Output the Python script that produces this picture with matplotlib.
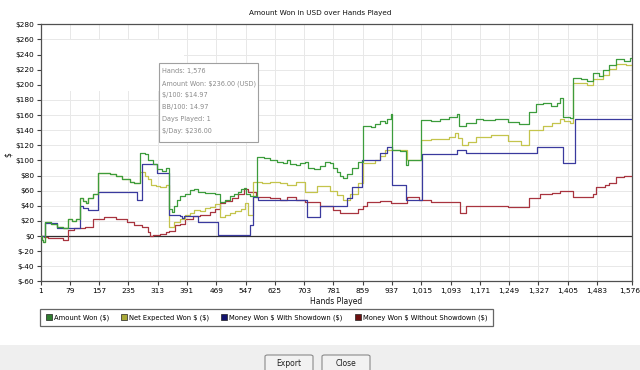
import matplotlib
matplotlib.use("Agg")
import matplotlib.pyplot as plt
import matplotlib.transforms as mtransforms
from matplotlib.lines import Line2D
from matplotlib.patches import Rectangle, FancyBboxPatch

# Amount Won ($)
won_hands = [1, 4, 8, 12, 14, 30, 45, 60, 74, 85, 95, 106, 115, 122, 127, 141, 154, 185,
             202, 218, 230, 239, 250, 266, 280, 287, 300, 311, 325, 335, 343, 350, 356,
             364, 372, 385, 399, 409, 420, 440, 465, 478, 492, 505, 515, 526, 535, 542,
             548, 560, 577, 595, 612, 630, 646, 657, 665, 680, 691, 705, 712, 730, 744,
             758, 771, 779, 790, 798, 806, 816, 830, 846, 859, 880, 891, 904, 918, 923,
             933, 938, 957, 973, 980, 1000, 1015, 1040, 1064, 1090, 1109, 1116, 1133,
             1160, 1180, 1210, 1247, 1275, 1303, 1320, 1340, 1360, 1375, 1383, 1391,
             1410, 1420, 1440, 1455, 1471, 1489, 1500, 1516, 1534, 1555, 1570, 1576]
won_usd = [0, -5, -8, -3, 18, 16, 12, 10, 22, 20, 23, 50, 46, 44, 50, 56, 83, 82,
           79, 76, 75, 72, 70, 110, 108, 100, 95, 88, 86, 90, 36, 32, 40,
           48, 53, 56, 61, 62, 58, 57, 55, 45, 48, 53, 56, 58, 62, 64,
           56, 53, 105, 103, 100, 98, 96, 100, 95, 94, 96, 98, 90, 88, 93,
           98, 96, 90, 84, 80, 77, 82, 90, 98, 145, 144, 148, 152, 150, 155,
           162, 114, 112, 94, 101, 100, 154, 152, 155, 157, 161, 145, 149,
           155, 153, 155, 151, 148, 164, 174, 176, 172, 176, 182, 158,
           156, 209, 207, 205, 215, 212, 219, 226, 234, 232, 236, 236]

# Net Expected Won $ ($)
ev_hands = [1, 4, 8, 12, 14, 30, 45, 60, 74, 85, 95, 106, 115, 122, 127, 141, 154, 185,
            202, 218, 230, 239, 250, 266, 279, 287, 295, 308, 320, 335, 343, 356, 372,
            385, 399, 409, 425, 439, 452, 465, 478, 492, 505, 520, 535, 545, 553, 567,
            590, 612, 638, 657, 680, 705, 737, 771, 790, 806, 824, 846, 859, 891, 904,
            918, 976, 1015, 1040, 1090, 1105, 1112, 1122, 1140, 1160, 1200, 1247, 1280,
            1303, 1340, 1364, 1383, 1395, 1410, 1420, 1455, 1471, 1500, 1516, 1534,
            1560, 1576]
ev_usd = [0, -5, -8, -3, 18, 16, 12, 10, 22, 20, 23, 50, 46, 44, 50, 56, 83, 82,
          79, 76, 75, 72, 70, 85, 80, 75, 67, 66, 65, 67, 12, 18, 22,
          28, 30, 34, 33, 37, 39, 42, 25, 28, 30, 33, 36, 44, 28, 72,
          70, 72, 70, 68, 72, 58, 66, 60, 54, 48, 56, 70, 97, 100, 106,
          114, 101, 127, 128, 131, 136, 129, 120, 124, 131, 133, 126, 121,
          140, 145, 150, 155, 152, 150, 202, 200, 208, 213, 221, 228,
          226, 228]

# Money Won $ With Showdown ($)
sd_hands = [1, 14, 45, 106, 115, 127, 154, 258, 270, 311, 343, 372, 377, 382, 420,
            473, 558, 567, 580, 640, 710, 744, 816, 830, 856, 904, 923, 936, 973, 1018,
            1109, 1133, 1324, 1391, 1423, 1576]
sd_usd = [0, 17, 10, 40, 37, 34, 58, 48, 95, 83, 28, 26, 24, 26, 19,
          1, 15, 52, 48, 48, 25, 40, 50, 65, 100, 110, 118, 68, 48, 108,
          114, 110, 118, 96, 155, 155]

# Money Won $ Without Showdown ($)
nsd_hands = [1, 10, 20, 40, 60, 74, 90, 106, 120, 141, 170, 202, 230, 250, 270, 287,
             292, 300, 319, 335, 343, 359, 372, 385, 407, 425, 452, 465, 478, 492, 510,
             526, 542, 553, 575, 612, 638, 657, 680, 705, 744, 779, 798, 816, 846, 859,
             870, 904, 933, 976, 1010, 1040, 1100, 1118, 1133, 1200, 1247, 1303, 1330,
             1364, 1383, 1420, 1455, 1471, 1481, 1505, 1516, 1534, 1555, 1576]
nsd_usd = [0, -1, -2, -3, -5, 8, 10, 11, 12, 23, 25, 22, 18, 14, 12, 5,
           0, 1, 3, 5, 6, 14, 16, 22, 26, 28, 32, 36, 43, 46, 50,
           56, 62, 58, 52, 50, 48, 51, 47, 45, 40, 34, 31, 30, 36, 40,
           45, 46, 44, 52, 47, 45, 45, 31, 40, 40, 38, 50, 55,
           57, 60, 52, 52, 56, 65, 68, 70, 78, 80, 80]

x_ticks = [1, 79, 157, 235, 313, 391, 469, 547, 625, 703, 781, 859, 937, 1015,
           1093, 1171, 1249, 1327, 1405, 1483, 1576]
y_ticks = [-60, -40, -20, 0, 20, 40, 60, 80, 100, 120, 140, 160, 180, 200, 220,
           240, 260, 280]

series_names = ["Amount Won ($)", "Net Expected Won $ ($)",
                "Money Won $ With Showdown ($)", "Money Won $ Without Showdown ($)"]
tooltip_lines = ["Hands: 1,576", "Amount Won: $236.00 (USD)", "$/100: $14.97",
                 "BB/100: 14.97", "Days Played: 1", "$/Day: $236.00"]

line_colors = ["#3c9c3c", "#c4c44c", "#3a3a9e", "#a8343f"]
swatch_colors = ["#2f7d2f", "#a8a838", "#14146e", "#6e1010"]

plt.rcParams["font.family"] = "DejaVu Sans"
plt.rcParams["text.parse_math"] = False
fig = plt.figure(figsize=(6.4, 3.7), dpi=100)
fig.patch.set_facecolor("white")

# grey dialog strip with buttons at the bottom
fig.patches.append(Rectangle((0, 0), 1, 25 / 370, transform=fig.transFigure,
                             facecolor="#efefef", edgecolor="none", zorder=0))
for label, x0, x1 in [("Export", 265, 313), ("Close", 322, 370)]:
    fig.patches.append(FancyBboxPatch((x0 / 640, -6 / 370), (x1 - x0) / 640, 21 / 370,
                                      boxstyle="round,pad=0,rounding_size=0.004",
                                      transform=fig.transFigure, facecolor="#f2f2f2",
                                      edgecolor="#8a8a8a", linewidth=0.8, zorder=1))
    fig.text((x0 + x1) / 2 / 640, 7 / 370, label, ha="center", va="center",
             fontsize=5.5, color="#202020")

ax = fig.add_axes([0.0633, 0.2395, 0.9242, 0.6949])
ax.set_xlim(1, 1576)
ax.set_ylim(-60, 280)

ax.step(nsd_hands, nsd_usd, where="post", color=line_colors[3], lw=0.9, zorder=3)
ax.step(ev_hands, ev_usd, where="post", color=line_colors[1], lw=0.9, zorder=4)
ax.step(sd_hands, sd_usd, where="post", color=line_colors[2], lw=0.9, zorder=5)
ax.step(won_hands, won_usd, where="post", color=line_colors[0], lw=0.9, zorder=6)
ax.axhline(0, color="#303030", lw=0.9, zorder=2)

ax.set_xticks(x_ticks)
ax.set_xticklabels([f"{t:,}" for t in x_ticks])
ax.set_yticks(y_ticks)
ax.set_yticklabels([f"${v}" for v in y_ticks])
ax.tick_params(labelsize=5.3, length=3, width=0.8, color="#404040", pad=1.5)
# keep the last hand label inside the figure
last = ax.get_xticklabels()[-1]
last.set_horizontalalignment("right")
last.set_transform(last.get_transform() + mtransforms.ScaledTranslation(8 / 100, 0, fig.dpi_scale_trans))
ax.grid(True, color="#e8e8e8", lw=0.7)
ax.set_axisbelow(True)
for sp in ax.spines.values():
    sp.set_color("#505050")
    sp.set_linewidth(0.9)

# blurred-out patch in the upper left of the plot
ax.add_patch(Rectangle((0.003, 0.74), 0.24, 0.2, transform=ax.transAxes,
                       facecolor="white", edgecolor="none", zorder=1))

# tooltip
ax.add_patch(Rectangle((0.2003, 0.542), 0.1674, 0.306, transform=ax.transAxes,
                       facecolor="white", edgecolor="#a0a0a0", lw=0.8, zorder=7))
for i, line in enumerate(tooltip_lines):
    ax.text(0.206, 0.817 - i * 0.0467, line, transform=ax.transAxes, fontsize=4.7,
            color="#8a8a8a", va="center", ha="left", zorder=8)

fig.text(0.5, 1 - 13 / 370, "Amount Won in USD over Hands Played", ha="center",
         va="center", fontsize=5.2, color="#101010")
fig.text(336 / 640, 1 - 301 / 370, "Hands Played", ha="center", va="center",
         fontsize=5.5, color="#101010")
fig.text(8 / 640, 1 - 155 / 370, "$", ha="center", va="center", fontsize=5.5,
         color="#101010", rotation=90)

handles = [Line2D([], [], marker="s", ls="", markersize=4.5, markerfacecolor=c,
                  markeredgecolor="#202020", markeredgewidth=0.5) for c in swatch_colors]
leg = fig.legend(handles, series_names, loc="upper left",
                 bbox_to_anchor=(40 / 640, 1 - 309 / 370), ncol=4, fontsize=4.9,
                 frameon=True, fancybox=False, handletextpad=0.2, columnspacing=1.75,
                 handlelength=1.0, borderpad=0.8, borderaxespad=0)
leg.get_frame().set_edgecolor("#404040")
leg.get_frame().set_linewidth(0.9)

fig.savefig("out.png", dpi=100)
